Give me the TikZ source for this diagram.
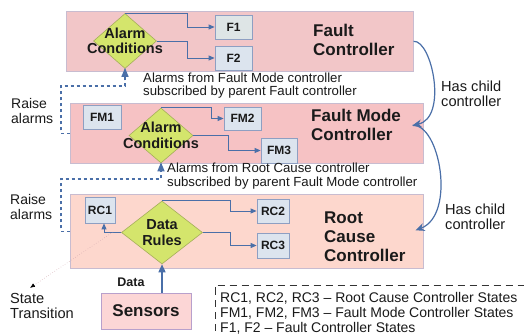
\documentclass[tikz,border=0pt]{standalone}
\usepackage{fontspec}
\setmainfont{Liberation Sans}
\usetikzlibrary{shapes.geometric,arrows.meta,calc}
\definecolor{fcfill}{HTML}{F2C6C8}
\definecolor{fmfill}{HTML}{F6C2C4}
\definecolor{rcfill}{HTML}{FDD7CD}
\definecolor{ctrlborder}{HTML}{C8BCD0}
\definecolor{stfill}{HTML}{DCE4EE}
\definecolor{stfillg}{HTML}{DEE5E6}
\definecolor{stborder}{HTML}{8E9FC2}
\definecolor{diafill}{HTML}{D4E56C}
\definecolor{diaborder}{HTML}{A5AE5A}
\definecolor{arrblue}{HTML}{4A6FA8}
\definecolor{sensfill}{HTML}{FCD6D6}
\definecolor{sensborder}{HTML}{B8A0CC}
\definecolor{txt}{HTML}{1A1A1A}
\definecolor{dotline}{HTML}{D0A4AC}
\begin{document}
\begin{tikzpicture}[x=1pt,y=-1pt,
  ctrlbox/.style={draw=ctrlborder, line width=0.6pt, inner sep=0, anchor=north west},
  stbox/.style={draw=stborder, fill=stfill, line width=0.8pt, inner sep=0, text=txt,
    font=\bfseries\fontsize{12}{14}\selectfont},
  dia/.style={diamond, draw=diaborder, fill=diafill, line width=0.6pt, inner sep=0},
  dialbl/.style={align=center, inner sep=0, text=txt, font=\bfseries\fontsize{14.5}{15.5}\selectfont},
  title/.style={align=left, anchor=west, inner sep=0, text=txt, font=\bfseries\fontsize{17}{18.5}\selectfont},
  lbl/.style={align=left, anchor=west, inner sep=0, text=txt, font=\fontsize{14}{15}\selectfont},
  biglbl/.style={lbl, font=\fontsize{14.6}{15.5}\selectfont},
  small/.style={align=left, anchor=west, inner sep=0, text=txt, font=\fontsize{13.2}{13.8}\selectfont},
  arr/.style={draw=arrblue, line width=0.8pt, -{Triangle[length=6pt,width=5pt]}},
  dasharr/.style={draw=arrblue, line width=1.3pt, dash pattern=on 3pt off 3pt,
    -{Triangle[length=9pt,width=7pt,sep=0pt]}, shorten >=-1pt},
  childarr/.style={draw=arrblue, line width=1.2pt, -{Stealth[length=9pt,width=8pt]}},
  bigarr/.style={draw=arrblue, line width=1.5pt, -{Triangle[length=8pt,width=7pt]}}
]
\useasboundingbox (0,0) rectangle (524,336);
\fill[white] (0,0) rectangle (524,336);

% controller boxes
\node[ctrlbox, fill=fcfill, minimum width=347pt, minimum height=60pt] (fc) at (66,11) {};
\node[ctrlbox, fill=fmfill, minimum width=353pt, minimum height=60pt] (fm) at (70,103) {};
\node[ctrlbox, fill=rcfill, minimum width=353pt, minimum height=74pt] (rc) at (70,194) {};

% titles
\node[title] (fct) at (313,40) {Fault\\Controller};
\node[title] (fmt) at (311,125) {Fault Mode\\Controller};
\node[title, font=\bfseries\fontsize{17}{19}\selectfont] (rct) at (324,237) {Root\\Cause\\Controller};

% diamonds
\node[dia, minimum width=63pt, minimum height=55pt] (d1) at (125,41) {};
\node[dialbl] at (d1) {Alarm\\Conditions};
\node[dia, minimum width=64pt, minimum height=55pt] (d2) at (161,135.5) {};
\node[dialbl] at (d2) {Alarm\\Conditions};
\node[dia, minimum width=81pt, minimum height=63pt] (d3) at (162,232.5) {};
\node[dialbl] at (d3) {Data\\Rules};

% state boxes
\node[stbox, fill=stfillg, minimum width=37pt, minimum height=24pt] (f1) at (233.5,27) {F1};
\node[stbox, minimum width=37pt, minimum height=24pt] (f2) at (233.5,58) {F2};
\node[stbox, minimum width=38pt, minimum height=24pt] (fm1) at (102,117) {FM1};
\node[stbox, minimum width=37pt, minimum height=23pt] (fm2) at (242.5,118.5) {FM2};
\node[stbox, minimum width=36pt, minimum height=25pt] (fm3) at (279,150.5) {FM3};
\node[stbox, minimum width=30pt, minimum height=26pt] (rc1) at (100,210) {RC1};
\node[stbox, minimum width=32pt, minimum height=24pt] (rc2) at (273,211) {RC2};
\node[stbox, minimum width=32pt, minimum height=25pt] (rc3) at (273,245.5) {RC3};

% internal transitions
\draw[arr] (d1.north) -- ++(62,0) |- (f1.west);
\draw[arr] (d1.east) -- ++(31,0) |- (f2.west);
\draw[arr] (d2.north) -- ++(50,0) |- (fm2.west);
\draw[arr] (d2.east) -- ++(35,0) |- (fm3.west);
\draw[arr] (d3.north) -- ++(68,0) |- (rc2.west);
\draw[arr] (d3.east) -- ++(27.5,0) |- (rc3.west);
\draw[arr] (d3.west) -| ($(rc1.south)+(4,0)$);

% raise alarms connectors
\draw[dasharr] (fm.west) -| (61,86) -| (d1.south);
\draw[dasharr] (rc.west) -| (61,179) -| (d2.south);
\node[lbl] (ra1) at (11,111) {Raise\\alarms};
\node[lbl] (ra2) at (10,206.5) {Raise\\alarms};

% subscription texts
\node[small] (sub1) at (143,85.5) {Alarms from Fault Mode controller\\subscribed by parent Fault controller};
\node[small] (sub2) at (167,176) {Alarms from Root Cause controller\\subscribed by parent Fault Mode controller};

% child relations
\coordinate (fmport) at ($(fm.east)+(-11,-8)$);
\coordinate (rcport) at ($(rc.east)+(-8,-1)$);
\draw[childarr] (fc.east) .. controls (432,40) and (448,118) .. (fmport);
\draw[childarr] (fmport) .. controls (440,124) and (456,215) .. (rcport);
\node[biglbl] (hc1) at (441,94) {Has child\\controller};
\node[biglbl] (hc2) at (445,217) {Has child\\controller};

% sensors
\node[draw=sensborder, fill=sensfill, line width=0.8pt, minimum width=90pt, minimum height=36pt,
  inner sep=0, text=txt, font=\bfseries\fontsize{17}{19}\selectfont] (sens) at (146,311) {Sensors};
\draw[bigarr] (sens.north -| d3.south) -- (d3.south);
\node[inner sep=0, text=txt, font=\bfseries\fontsize{12.5}{14}\selectfont] (datal) at (131,282) {Data};

% state transition note
\node[biglbl] (st) at (10,306) {State\\Transition};
\coordinate (stfrom) at (113,232);
\draw[dotline, line width=0.5pt, dotted, -{Latex[black,length=5pt,width=4pt]}] (stfrom) -- ($(st.north west)+(20,-5)$);

% legend
\node[lbl, anchor=north west] (legend) at (220,292.5) {RC1, RC2, RC3 -- Root Cause Controller States\\FM1, FM2, FM3 -- Fault Mode Controller States\\F1, F2 -- Fault Controller States};
\draw[black!80, line width=0.6pt, dash pattern=on 7pt off 5pt] ($(legend.north west)+(-5,50)$) -- ($(legend.north west)+(-5,-7.5)$) -- (524,285);
\end{tikzpicture}
\end{document}
